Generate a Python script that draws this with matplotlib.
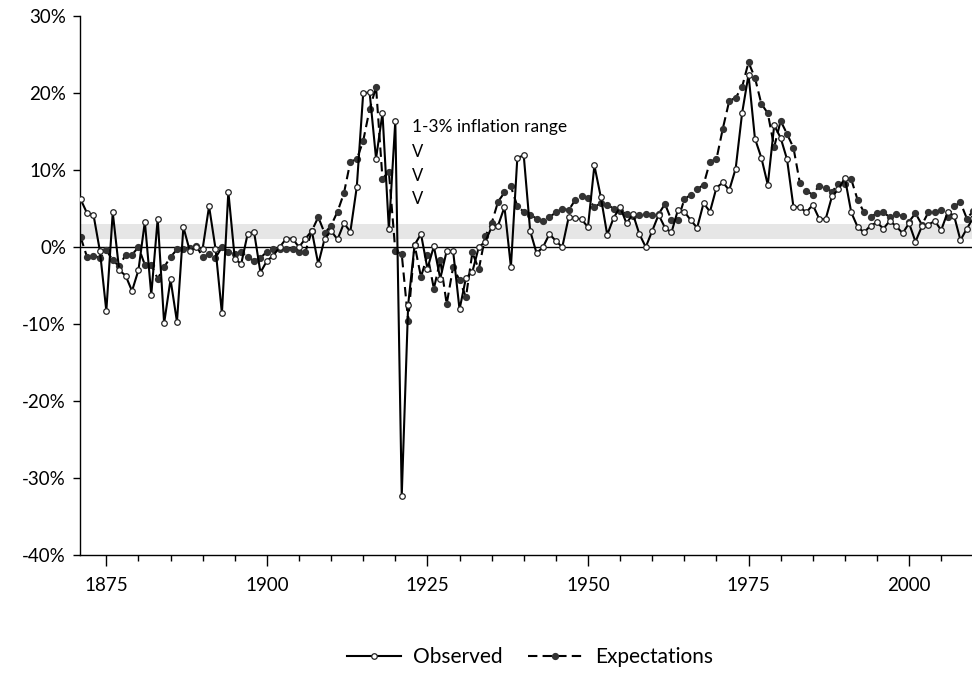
import numpy as np
import matplotlib
matplotlib.use('Agg')
import matplotlib.pyplot as plt
from matplotlib.ticker import MultipleLocator, FuncFormatter

plt.rcParams['font.family'] = ['Lato', 'DejaVu Sans']

years = np.arange(1871, 2011)

# observed inflation, % per year
observed = [
    6.2, 4.4, 4.2, -0.5, -8.3, 4.5, -3.0, -3.7, -5.7, -3.0,     # 1871-1880
    3.3, -6.2, 3.7, -9.9, -4.2, -9.7, 2.6, -0.5, 0.0, -0.2,     # 1881-1890
    5.3, -0.2, -8.6, 7.2, -1.5, -2.2, 1.7, 2.0, -3.3, -1.8,     # 1891-1900
    -1.1, 0.0, 1.1, 1.1, 0.0, 1.1, 2.1, -2.2, 1.1, 2.1,         # 1901-1910
    1.0, 3.1, 2.0, 7.8, 20.0, 20.1, 11.5, 17.4, 2.3, 16.4,      # 1911-1920
    -32.3, -7.5, 0.3, 1.7, -2.8, 0.1, -4.1, -0.5, -0.5, -8.1,   # 1921-1930
    -4.0, -3.2, 0.0, 0.7, 2.6, 2.8, 5.2, -2.6, 11.6, 11.9,      # 1931-1940
    2.1, -0.8, 0.0, 1.7, 0.8, 0.0, 3.9, 3.8, 3.6, 2.6,          # 1941-1950
    10.6, 6.5, 1.6, 3.8, 5.2, 3.1, 4.3, 1.7, 0.0, 2.1,          # 1951-1960
    4.2, 2.5, 1.9, 4.8, 4.6, 3.5, 2.5, 5.7, 4.6, 7.7,           # 1961-1970
    8.4, 7.4, 10.2, 17.4, 22.4, 14.1, 11.6, 8.1, 15.8, 14.2,    # 1971-1980
    11.4, 5.2, 5.2, 4.5, 5.5, 3.7, 3.6, 6.6, 7.5, 9.0,          # 1981-1990
    4.5, 2.6, 1.9, 2.8, 3.2, 2.4, 3.4, 2.7, 1.8, 3.1,           # 1991-2000
    0.7, 2.7, 2.9, 3.4, 2.2, 4.5, 4.1, 0.9, 2.4, 3.8,           # 2001-2010
]

# inflation expectations, % per year
expectations = [
    1.3, -1.3, -1.1, -1.4, -0.4, -1.7, -2.5, -1.0, -1.0, 0.0,   # 1871-1880
    -2.3, -2.3, -4.1, -2.6, -1.3, -0.3, -0.3, -0.1, 0.2, -1.3,  # 1881-1890
    -0.9, -1.4, 0.0, -0.6, -0.9, -0.6, -1.3, -1.8, -1.4, -0.6,  # 1891-1900
    -0.3, -0.3, -0.3, -0.3, -0.7, -0.6, 2.1, 3.9, 1.8, 2.8,     # 1901-1910
    4.6, 7.0, 11.1, 11.4, 13.8, 17.9, 20.8, 8.9, 9.8, -0.5,     # 1911-1920
    -0.9, -9.6, 0.3, -3.9, -1.0, -5.4, -1.7, -7.4, -2.6, -4.3,  # 1921-1930
    -6.5, -0.7, -2.9, 1.4, 3.1, 5.9, 7.1, 7.9, 5.3, 4.6,        # 1931-1940
    4.2, 3.7, 3.4, 3.9, 4.5, 5.0, 4.8, 6.1, 6.6, 6.4,           # 1941-1950
    5.2, 5.7, 5.5, 5.0, 4.7, 4.3, 4.0, 4.2, 4.3, 4.2,           # 1951-1960
    4.3, 5.6, 3.5, 3.5, 6.2, 6.8, 7.5, 8.1, 11.1, 11.4,         # 1961-1970
    15.4, 19.0, 19.4, 20.8, 24.0, 22.0, 18.6, 17.4, 13.0, 16.4, # 1971-1980
    14.7, 12.9, 8.3, 7.3, 6.8, 8.0, 7.7, 7.2, 8.2, 8.2,         # 1981-1990
    8.8, 6.1, 4.5, 3.9, 4.4, 4.5, 3.9, 4.3, 4.0, 3.3,           # 1991-2000
    4.4, 2.9, 4.5, 4.6, 4.8, 3.9, 5.3, 5.8, 3.7, 4.7,           # 2001-2010
]

band_low, band_high = 1, 3

fig = plt.figure(figsize=(9.72, 6.73), dpi=100)
ax = fig.add_axes([0.0823, 0.1753, 0.9177, 0.8007])

ax.axhspan(band_low, band_high, color='#e6e6e6', lw=0, zorder=0)
ax.axhline(0, color='black', lw=1.0, zorder=1)

ax.plot(years, observed, color='black', lw=1.5, marker='o', markersize=4.0,
        markerfacecolor='white', markeredgecolor='#222222', markeredgewidth=0.9,
        label='Observed', zorder=3)
ax.plot(years, expectations, color='black', lw=1.5, linestyle=(0, (4.5, 2.5)),
        marker='o', markersize=4.2, markerfacecolor='#333333',
        markeredgecolor='#333333', label='Expectations', zorder=2)

ax.text(1922.6, 15.6, '1-3% inflation range', fontsize=12.5, va='center', ha='left')
for yv in [12.3, 9.3, 6.3]:
    ax.text(1922.6, yv, 'V', fontsize=12, va='center', ha='left')

ax.set_xlim(1870.9, 2009.8)
ax.set_ylim(-40, 30)
ax.yaxis.set_major_locator(MultipleLocator(10))
ax.yaxis.set_major_formatter(FuncFormatter(lambda v, p: f'{v:.0f}%'))
ax.xaxis.set_major_locator(MultipleLocator(25))
ax.xaxis.set_minor_locator(MultipleLocator(5))
ax.xaxis.set_major_formatter(FuncFormatter(lambda v, p: f'{v:.0f}'))

ax.spines['top'].set_visible(False)
ax.spines['right'].set_visible(False)
ax.spines['left'].set_linewidth(1.0)
ax.spines['bottom'].set_linewidth(1.0)
ax.tick_params(axis='y', direction='out', length=5, width=1, labelsize=13.5, pad=5)
ax.tick_params(axis='x', which='major', direction='out', length=8, width=1, labelsize=13.5, pad=8)
ax.tick_params(axis='x', which='minor', direction='out', length=4, width=1)

fig.legend(loc='center', bbox_to_anchor=(0.545, 0.024), ncol=2, frameon=False,
           fontsize=15, handlelength=2.6, columnspacing=1.2, handletextpad=0.6)

fig.savefig('out.png', dpi=100)
